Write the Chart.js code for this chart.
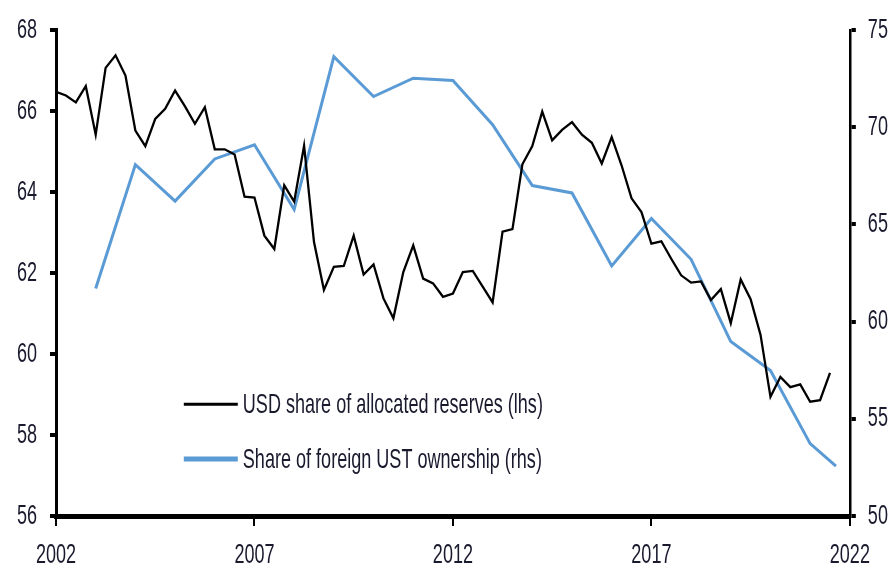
<!DOCTYPE html>
<html>
<head>
<meta charset="utf-8">
<script src="https://cdn.jsdelivr.net/npm/chart.js@4"></script>
<style>
    html, body { margin: 0; padding: 0; background: #fff; }
    #wrap { width: 893px; height: 569px; position: relative; }
</style>
</head>
<body>
<div id="wrap"><canvas id="usdChart"></canvas></div>
<script>
// Quarterly USD share of allocated reserves (lhs), starting 2002 Q1
const startYear = 2002;
const usdShare = [
    66.47, 66.38, 66.21, 66.61, 65.41, 67.06, 67.37, 66.87, 65.51, 65.13,
    65.80, 66.05, 66.50, 66.11, 65.68, 66.09, 65.05, 65.05, 64.92, 63.88,
    63.86, 62.92, 62.59, 64.16, 63.76, 65.14, 62.76, 61.58, 62.15, 62.17,
    62.92, 61.96, 62.21, 61.37, 60.88, 62.02, 62.68, 61.86, 61.74, 61.41,
    61.49, 62.02, 62.05, 61.66, 61.27, 63.02, 63.08, 64.68, 65.13, 65.98,
    65.27, 65.53, 65.72, 65.41, 65.21, 64.70, 65.35, 64.65, 63.84, 63.50,
    62.72, 62.78, 62.35, 61.94, 61.76, 61.79, 61.33, 61.60, 60.76, 61.84,
    61.35, 60.47, 58.94, 59.43, 59.18, 59.25, 58.82, 58.86, 59.53
];

// Share of foreign UST ownership (rhs), annual
const ustYears = [2003, 2004, 2005, 2006, 2007, 2008, 2009, 2010, 2011, 2012,
    2013, 2014, 2015, 2016, 2017, 2018, 2019, 2020, 2021, 2021.65];
const ustShare = [61.7, 68.07, 66.19, 68.36, 69.09, 65.76, 73.62, 71.57, 72.51, 72.39,
    70.12, 66.99, 66.61, 62.86, 65.30, 63.20, 58.97, 57.48, 53.72, 52.56];

const xTicks = [2002, 2007, 2012, 2017, 2022];
const leftTicks = [56, 58, 60, 62, 64, 66, 68];
const rightTicks = [50, 55, 60, 65, 70, 75];

const seriesNames = ['USD share of allocated reserves (lhs)', 'Share of foreign UST ownership (rhs)'];

const FONT = "'Liberation Sans', Arial, sans-serif";
const FONT_SIZE = 28;
const TEXT_SQUASH = 0.645;   // source chart uses very narrow lettering
const textColor = '#1a1a2e';
const blue = '#5b9bd5';

const usdPoints = usdShare.map((v, i) => ({ x: startYear + i / 4, y: v }));
const ustPoints = ustShare.map((v, i) => ({ x: ustYears[i], y: v }));

// squeeze all text horizontally around its anchor point
const narrowText = {
    id: 'narrowText',
    beforeInit(chart) {
        const ctx = chart.ctx;
        const orig = ctx.fillText.bind(ctx);
        ctx.fillText = function (text, x, y) {
            ctx.save();
            ctx.translate(x, y);
            ctx.scale(TEXT_SQUASH, 1);
            orig(text, 0, 0);
            ctx.restore();
        };
    }
};

// simple legend drawn inside the plot area
const innerLegend = {
    id: 'innerLegend',
    afterDraw(chart) {
        const { ctx, chartArea } = chart;
        const x0 = chartArea.left + chartArea.width * 0.161;
        const x1 = chartArea.left + chartArea.width * 0.229;
        const rows = [
            { y: chartArea.top + chartArea.height * 0.77, color: '#000', width: 3 },
            { y: chartArea.top + chartArea.height * 0.883, color: blue, width: 5 }
        ];
        ctx.save();
        ctx.font = FONT_SIZE + 'px ' + FONT;
        ctx.textBaseline = 'middle';
        rows.forEach((r, i) => {
            ctx.strokeStyle = r.color;
            ctx.lineWidth = r.width;
            ctx.beginPath();
            ctx.moveTo(x0, r.y);
            ctx.lineTo(x1, r.y);
            ctx.stroke();
            ctx.fillStyle = textColor;
            ctx.fillText(seriesNames[i], x1 + 5, r.y + 1);
        });
        ctx.restore();
    }
};

new Chart(document.getElementById('usdChart'), {
    type: 'line',
    data: {
        datasets: [{
            label: seriesNames[0],
            data: usdPoints,
            yAxisID: 'yL',
            borderColor: '#000',
            borderWidth: 2.3,
            pointRadius: 0,
            tension: 0
        }, {
            label: seriesNames[1],
            data: ustPoints,
            yAxisID: 'yR',
            borderColor: blue,
            borderWidth: 3,
            pointRadius: 0,
            tension: 0
        }]
    },
    options: {
        responsive: true,
        maintainAspectRatio: false,
        animation: false,
        layout: { padding: { top: 26, left: 0, right: 0, bottom: 0 } },
        plugins: {
            legend: { display: false },
            tooltip: { enabled: false }
        },
        scales: {
            x: {
                type: 'linear',
                min: 2002,
                max: 2022,
                afterBuildTicks: s => { s.ticks = xTicks.map(v => ({ value: v })); },
                afterFit: s => { s.height = 53; },
                grid: { drawOnChartArea: false, color: '#000', lineWidth: 2, tickLength: 10 },
                border: { color: '#000', width: 5 },
                ticks: {
                    color: textColor,
                    font: { family: FONT, size: FONT_SIZE },
                    padding: 12,
                    maxRotation: 0,
                    autoSkip: false,
                    callback: v => String(v)
                }
            },
            yL: {
                position: 'left',
                min: 56,
                max: 68,
                afterBuildTicks: s => { s.ticks = leftTicks.map(v => ({ value: v })); },
                afterFit: s => { s.width = 56; },
                grid: { drawOnChartArea: false, color: '#000', lineWidth: 4, tickLength: 6 },
                border: { color: '#000', width: 3 },
                ticks: { color: textColor, font: { family: FONT, size: FONT_SIZE }, padding: 13 }
            },
            yR: {
                position: 'right',
                min: 50,
                max: 75,
                afterBuildTicks: s => { s.ticks = rightTicks.map(v => ({ value: v })); },
                afterFit: s => { s.width = 42; },
                grid: { drawOnChartArea: false, color: '#000', lineWidth: 4, tickLength: 6 },
                border: { color: '#000', width: 2.5 },
                ticks: { color: textColor, font: { family: FONT, size: FONT_SIZE }, padding: 12 }
            }
        }
    },
    plugins: [narrowText, innerLegend]
});
</script>
</body>
</html>
